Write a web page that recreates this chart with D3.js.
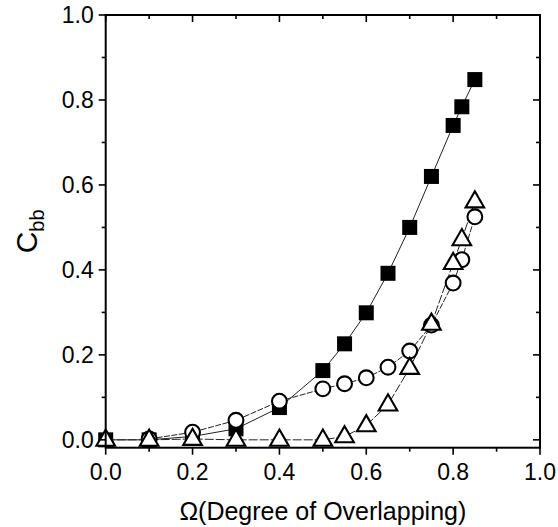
<!DOCTYPE html>
<html><head><meta charset="utf-8">
<script src="https://cdn.jsdelivr.net/npm/d3@7"></script>
<style>
body{margin:0;background:#fff}
svg{display:block}
text{font-family:"Liberation Sans",Arial,Helvetica,sans-serif;fill:#000}
</style>
</head><body>
<svg id="chart" width="558" height="527"></svg>
<script>
// ---- data ----
const omega      = [0, 0.1, 0.2, 0.3, 0.4, 0.5, 0.55, 0.6, 0.65, 0.7, 0.75, 0.8, 0.82, 0.85];
const squareVals = [0, 0, 0.008, 0.026, 0.076, 0.163, 0.226, 0.299, 0.392, 0.50, 0.62, 0.74, 0.784, 0.848];
const circleOmega= [0.1, 0.2, 0.3, 0.4, 0.5, 0.55, 0.6, 0.65, 0.7, 0.75, 0.8, 0.82, 0.85];
const circleVals = [0.002, 0.018, 0.046, 0.091, 0.12, 0.132, 0.146, 0.171, 0.209, 0.27, 0.369, 0.424, 0.525];
const triVals    = [0, 0, 0.002, 0, 0, 0, 0.008, 0.034, 0.083, 0.169, 0.273, 0.416, 0.472, 0.561];
const xTickLabels = ["0.0","0.2","0.4","0.6","0.8","1.0"];
const yTickLabels = ["0.0","0.2","0.4","0.6","0.8","1.0"];
const xMajor = [0, 0.2, 0.4, 0.6, 0.8, 1.0];
const xMinor = [0.1, 0.3, 0.5, 0.7, 0.9];
const yMajor = [0, 0.2, 0.4, 0.6, 0.8, 1.0];
const yMinor = [0.1, 0.3, 0.5, 0.7, 0.9];

const L = 105.7, R = 540, T = 15, B = 447.7;
const svg = d3.select("#chart");
const x = d3.scaleLinear().domain([0, 1]).range([L, R]);
const y = d3.scaleLinear().domain([-0.0185, 1.0]).range([B, T]);

const g = svg.append("g");

// lines
const lineFn = (xs, ys) => d3.line().x((d,i)=>x(xs[i])).y((d,i)=>y(ys[i]))(ys);
g.append("path").attr("d", lineFn(omega, squareVals)).attr("fill","none").attr("stroke","#222").attr("stroke-width",1);
g.append("path").attr("d", lineFn(circleOmega, circleVals)).attr("fill","none").attr("stroke","#222").attr("stroke-width",1).attr("stroke-dasharray","6,1.5");
g.append("path").attr("d", lineFn(omega, triVals)).attr("fill","none").attr("stroke","#222").attr("stroke-width",1).attr("stroke-dasharray","9,2");

// markers
const sq = 15;
g.selectAll("rect.sq").data(squareVals).enter().append("rect")
  .attr("x",(d,i)=>x(omega[i])-sq/2).attr("y",d=>y(d)-sq/2)
  .attr("width",sq).attr("height",sq).attr("fill","#000");
g.selectAll("circle.ci").data(circleVals).enter().append("circle")
  .attr("cx",(d,i)=>x(circleOmega[i])).attr("cy",d=>y(d)).attr("r",7.4)
  .attr("fill","#fff").attr("stroke","#000").attr("stroke-width",2.1);
const triPath = d3.symbol().type(d3.symbolTriangle).size(150);
g.selectAll("path.tr").data(triVals).enter().append("path")
  .attr("d", triPath)
  .attr("transform",(d,i)=>`translate(${x(omega[i])},${y(d)+0.5})`)
  .attr("fill","#fff").attr("stroke","#000").attr("stroke-width",2.1);

// frame
const ax = svg.append("g");
ax.append("rect").attr("x",L).attr("y",T).attr("width",R-L).attr("height",B-T)
  .attr("fill","none").attr("stroke","#000").attr("stroke-width",2);

// ticks: bottom & left outward, top & right inward
const maj = 7, mnr = 4;
function tk(x1,y1,x2,y2){ax.append("line").attr("x1",x1).attr("y1",y1).attr("x2",x2).attr("y2",y2).attr("stroke","#000").attr("stroke-width",1.6);}
xMajor.forEach(v=>{tk(x(v),B,x(v),B+maj); tk(x(v),T,x(v),T+maj);});
xMinor.forEach(v=>{tk(x(v),B,x(v),B+mnr); tk(x(v),T,x(v),T+mnr);});
yMajor.forEach(v=>{tk(L,y(v),L-maj,y(v)); tk(R,y(v),R-maj,y(v));});
yMinor.forEach(v=>{tk(L,y(v),L-mnr,y(v)); tk(R,y(v),R-mnr,y(v));});

// tick labels
ax.selectAll("text.xl").data(xMajor).enter().append("text")
  .attr("x",v=>x(v)).attr("y",B+32).attr("text-anchor","middle")
  .attr("font-size",23).text((v,i)=>xTickLabels[i]);
ax.selectAll("text.yl").data(yMajor).enter().append("text")
  .attr("x",L-12).attr("y",v=>y(v)+8).attr("text-anchor","end")
  .attr("font-size",23).text((v,i)=>yTickLabels[i]);

// axis titles
ax.append("text").attr("x",(L+R)/2).attr("y",520).attr("text-anchor","middle")
  .attr("font-size",25).text("Ω(Degree of Overlapping)");
const yt = ax.append("text").attr("transform",`translate(37,${(T+B)/2}) rotate(-90)`)
  .attr("text-anchor","middle").attr("font-size",30);
yt.append("tspan").text("C");
yt.append("tspan").attr("font-size",20).attr("dy",7).text("bb");
</script>
</body></html>
